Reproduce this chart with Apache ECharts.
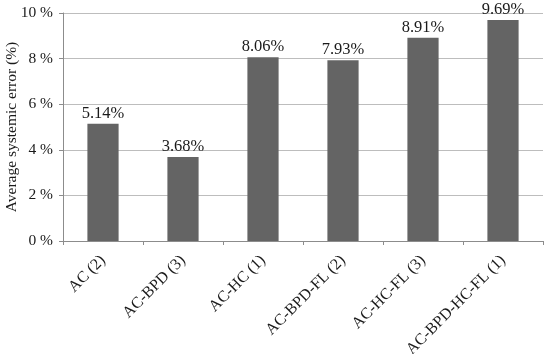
<!DOCTYPE html>
<html>
<head>
<meta charset="utf-8">
<script src="https://cdn.jsdelivr.net/npm/echarts@6/dist/echarts.min.js"></script>
<style>
html,body{margin:0;padding:0;background:#fff;}
#main{width:546px;height:354px;}
</style>
</head>
<body>
<div id="main"></div>
<script>
// 数据
var categories=["AC (2)","AC-BPD (3)","AC-HC (1)","AC-BPD-FL (2)","AC-HC-FL (3)","AC-BPD-HC-FL (1)"];
var errorValues=[5.14,3.68,8.06,7.93,8.91,9.69];
var yTicks=[0,2,4,6,8,10];

var chart=echarts.init(document.getElementById("main"));
var font="Liberation Serif";
option={
    animation:false,
    grid:{
        left:63,
        right:3,
        top:13,
        bottom:113,
        containLabel:false,
        outerBoundsMode:"none"
    },
    xAxis:{
        type:"category",
        data:categories,
        axisLine:{
            lineStyle:{
                color:"#8c8c8c",
                width:1
            }
        },
        axisTick:{
            show:true,
            length:4,
            lineStyle:{color:"#8c8c8c"}
        },
        axisLabel:{
            interval:0,
            rotate:45,
            margin:17,
            color:"#1a1a1a",
            fontFamily:font,
            fontSize:16
        }
    },
    yAxis:{
        type:"value",
        min:yTicks[0],
        max:yTicks[yTicks.length-1],
        interval:2,
        name:"Average systemic error (%)",
        nameLocation:"middle",
        nameGap:43,
        nameMoveOverlap:false,
        nameTextStyle:{
            color:"#1a1a1a",
            fontFamily:font,
            fontSize:15.5
        },
        axisLine:{
            show:true,
            lineStyle:{color:"#8c8c8c"}
        },
        axisTick:{
            show:true,
            length:4,
            lineStyle:{color:"#8c8c8c"}
        },
        splitLine:{
            lineStyle:{color:"#bdbdbd"}
        },
        axisLabel:{
            margin:10,
            color:"#1a1a1a",
            fontFamily:font,
            fontSize:15.5,
            formatter:function(v){return v+" %";}
        }
    },
    series:[{
        type:"bar",
        data:errorValues,
        barWidth:"39%",
        itemStyle:{color:"#646464"},
        label:{
            show:true,
            position:"top",
            distance:2,
            color:"#1a1a1a",
            fontFamily:font,
            fontSize:16.5,
            formatter:function(p){return p.value.toFixed(2)+"%";}
        }
    }]
};
chart.setOption(option);
</script>
</body>
</html>
